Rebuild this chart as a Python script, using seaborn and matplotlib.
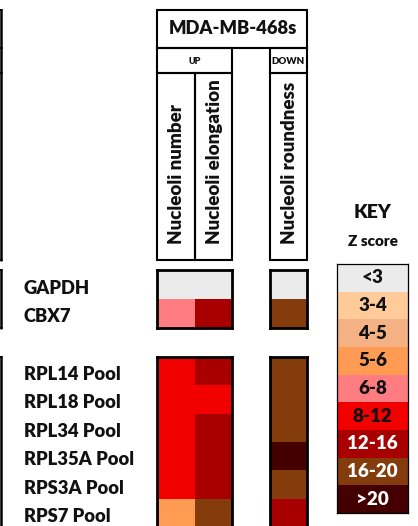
import numpy as np
import pandas as pd
import matplotlib
matplotlib.use("Agg")
import matplotlib.pyplot as plt
import seaborn as sns
from matplotlib.colors import ListedColormap
from matplotlib.patches import Rectangle

# ---------------- data ----------------
bins = ["<3", "3-4", "4-5", "5-6", "6-8", "8-12", "12-16", "16-20", ">20"]
bin_colors = ["#ebebeb", "#ffcc99", "#f4b183", "#ff9b52", "#ff7c80",
              "#f20000", "#a80000", "#843c0c", "#440000"]
bin_text_colors = ["black"] * 6 + ["white"] * 3

cell_line = "MDA-MB-468s"
features_up = ["Nucleoli number", "Nucleoli elongation"]
features_down = ["Nucleoli roundness"]

control_genes = ["GAPDH", "CBX7"]
control_number = ["<3", "6-8"]
control_elongation = ["<3", "12-16"]
control_roundness = ["<3", "16-20"]

pool_genes = ["RPL14 Pool", "RPL18 Pool", "RPL34 Pool",
              "RPL35A Pool", "RPS3A Pool", "RPS7 Pool"]
pool_number = ["8-12", "8-12", "8-12", "8-12", "8-12", "5-6"]
pool_elongation = ["12-16", "8-12", "12-16", "12-16", "12-16", "16-20"]
pool_roundness = ["16-20", "16-20", "16-20", ">20", "16-20", "12-16"]

# ---------------- setup ----------------
sns.set_style("white")
FAM = "Lato"
WT = 800
plt.rcParams["font.family"] = FAM
TXT = "#111111"

W, H = 418, 526
fig = plt.figure(figsize=(W / 100, H / 100), dpi=100)
cmap = ListedColormap(bin_colors)
idx = {b: i for i, b in enumerate(bins)}


def px_axes(x0, y0, x1, y1):
    return fig.add_axes([x0 / W, 1 - y1 / H, (x1 - x0) / W, (y1 - y0) / H])


bg = fig.add_axes([0, 0, 1, 1])
bg.set_xlim(0, W)
bg.set_ylim(H, 0)
bg.axis("off")


def draw_block(ax, genes, cols, names, lw=2.0):
    df = pd.DataFrame({n: [idx[v] for v in c] for n, c in zip(names, cols)},
                      index=genes)
    sns.heatmap(df, cmap=cmap, vmin=-0.5, vmax=len(bins) - 0.5, cbar=False,
                ax=ax, xticklabels=False, yticklabels=False, linewidths=0)
    for s in ax.spines.values():
        s.set_visible(True)
        s.set_linewidth(lw)
        s.set_color("black")
    ax.tick_params(left=False, bottom=False)


# geometry (pixels)
c0, c1, c2 = 157, 195, 232
d0, d1 = 270, 307
ctrl_top, ctrl_bot = 270, 328
pool_top, pool_bot = 357, 527

ax_cu = px_axes(c0, ctrl_top, c2, ctrl_bot)
draw_block(ax_cu, control_genes, [control_number, control_elongation], features_up)
ax_cd = px_axes(d0, ctrl_top, d1, ctrl_bot)
draw_block(ax_cd, control_genes, [control_roundness], features_down)
ax_pu = px_axes(c0, pool_top, c2, pool_bot)
draw_block(ax_pu, pool_genes, [pool_number, pool_elongation], features_up)
ax_pd = px_axes(d0, pool_top, d1, pool_bot)
draw_block(ax_pd, pool_genes, [pool_roundness], features_down)


# row labels
def row_labels(genes, top, bot):
    h = (bot - top) / len(genes)
    for i, g in enumerate(genes):
        bg.text(24, top + h * (i + 0.5) + 9, g, ha="left", va="baseline",
                fontsize=13.2, fontweight=WT, family=FAM, color=TXT)


row_labels(control_genes, ctrl_top, ctrl_bot)
row_labels(pool_genes, pool_top, pool_bot)

# header boxes
lw = 1.5


def box(x0, y0, x1, y1):
    bg.add_patch(Rectangle((x0, y0), x1 - x0, y1 - y0, fill=False,
                           edgecolor="black", lw=lw))


box(c0, 10, d1, 48)
box(c0, 48, c2, 73)
box(d0, 48, d1, 73)
box(c0, 73, c1, 260)
box(c1, 73, c2, 260)
box(d0, 73, d1, 260)
bg.text((c0 + d1) / 2 + 1, 29, cell_line, ha="center", va="center",
        fontsize=13.2, fontweight=WT, family=FAM, color=TXT)
bg.text((c0 + c2) / 2, 61, "UP", ha="center", va="center",
        fontsize=6.5, fontweight=WT, family=FAM, color=TXT)
bg.text((d0 + d1) / 2, 61, "DOWN", ha="center", va="center",
        fontsize=7, fontweight=WT, family=FAM, color=TXT)
for xc, name in zip([(c0 + c1) / 2, (c1 + c2) / 2, (d0 + d1) / 2],
                    features_up + features_down):
    bg.text(xc + 1, 244, name, rotation=90, rotation_mode="anchor",
            ha="left", va="center", fontsize=13.5, fontweight=WT,
            family=FAM, color=TXT)

# edge of neighbouring panel (cut off at left)
for y0, y1 in [(10, 260), (270, 328), (357, 527)]:
    bg.plot([1, 1], [y0, y1], color="black", lw=1.8)
for y in [10, 48, 73, 260, 270, 328, 357]:
    bg.plot([0, 2], [y, y], color="black", lw=1.4)

# key
bg.text(373, 212, "KEY", ha="center", va="center", fontsize=14,
        fontweight=WT, family=FAM, color=TXT)
bg.text(373, 242, "Z score", ha="center", va="center", fontsize=11,
        fontweight=WT, family=FAM, color=TXT)
ax_key = px_axes(337, 264, 408, 513)
key_df = pd.DataFrame({"Z score": list(range(len(bins)))}, index=bins)
key_annot = np.array(bins).reshape(-1, 1)
sns.heatmap(key_df, cmap=cmap, vmin=-0.5, vmax=len(bins) - 0.5, cbar=False,
            ax=ax_key, xticklabels=False, yticklabels=False, annot=key_annot,
            fmt="", annot_kws={"fontsize": 13.5, "fontweight": WT,
                               "family": FAM})
for t, c in zip(ax_key.texts, bin_text_colors):
    t.set_color(c if c == "white" else TXT)
for s in ax_key.spines.values():
    s.set_visible(True)
    s.set_linewidth(0.9)
    s.set_color("black")
ax_key.tick_params(left=False, bottom=False)

fig.savefig("out.png", dpi=100)
